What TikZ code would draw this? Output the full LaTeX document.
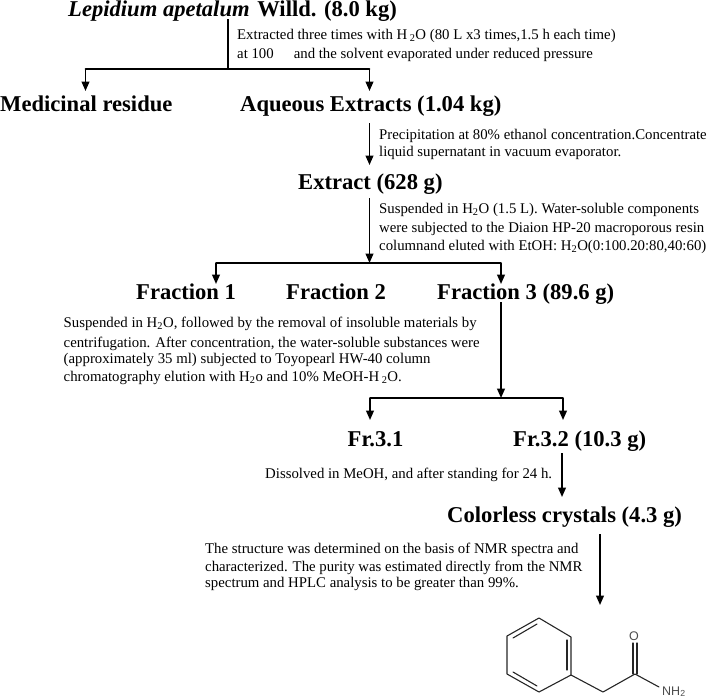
\documentclass[tikz,border=0pt]{standalone}
\usepackage{fontspec}
\setmainfont{Liberation Serif}
\setsansfont{Liberation Sans}
\usetikzlibrary{arrows.meta}
\newcommand{\subn}[1]{\textsubscript{#1}}
\tikzset{
 head/.style={font=\fontsize{22.6}{26}\selectfont\bfseries,anchor=base west,inner sep=0pt},
 note/.style={font=\fontsize{14.8}{18}\selectfont,anchor=base west,inner sep=0pt},
 thinline/.style={line width=1.3pt},
 bar/.style={line width=1.9pt,line cap=round},
 arr/.style={line width=1.7pt,-{Triangle[length=9.5pt,width=7.8pt]}},
 bond/.style={line width=1.1pt,line cap=round,black!85},
 atom/.style={font=\sffamily\fontsize{12.5}{14}\selectfont,text=black!70,inner sep=0pt}
}
\begin{document}
\begin{tikzpicture}[x=1pt,y=-1pt]
\useasboundingbox (0,0) rectangle (708,699);
% titles
\node[head] (a) at (68,16.5) {\textit{Lepidium apetalum}\hspace{2pt} Willd. (8.0 kg)};
\node[head] (b) at (0,111) {Medicinal residue};
\node[head] (c) at (240,111) {Aqueous Extracts (1.04 kg)};
\node[head] (d) at (298,189) {Extract (628 g)};
\node[head] (f1) at (136,299) {Fraction 1};
\node[head] (f2) at (286,299) {Fraction 2};
\node[head] (f3) at (437,299) {Fraction 3 (89.6 g)};
\node[head] (g1) at (347.5,446) {Fr.3.1};
\node[head] (g2) at (513,446) {Fr.3.2 (10.3 g)};
\node[head] (h) at (447,522) {Colorless crystals (4.3 g)};
% notes
\node[note] (n1) at (237,39) {Extracted three times with H\,\subn{2}O (80 L x3 times,1.5 h each time)};
\node[note] (n1b) at (237,58) {at 100\hspace{20pt}and the solvent evaporated under reduced pressure};
\node[note] (n2) at (379,139) {Precipitation at 80\% ethanol concentration.Concentrate};
\node[note] (n2b) at (379,156) {liquid supernatant in vacuum evaporator.};
\node[note] (n3) at (379,213) {Suspended in H\subn{2}O (1.5 L). Water-soluble components};
\node[note] (n3b) at (379,232) {were subjected to the Diaion HP-20 macroporous resin};
\node[note] (n3c) at (379,250) {columnand eluted with EtOH: H\subn{2}O(0:100.20:80,40:60)};
\node[note] (n4) at (63.5,327) {Suspended in H\subn{2}O, followed by the removal of insoluble materials by};
\node[note] (n4b) at (63.5,347) {centrifugation. After concentration, the water-soluble substances were};
\node[note] (n4c) at (63.5,363) {(approximately 35 ml) subjected to Toyopearl HW-40 column};
\node[note] (n4d) at (63.5,381) {chromatography elution with H\subn{2}o and 10\% MeOH-H\,\subn{2}O.};
\node[note] (n5) at (265,478) {Dissolved in MeOH, and after standing for 24 h.};
\node[note] (n6) at (205,553) {The structure was determined on the basis of NMR spectra and};
\node[note] (n6b) at (205,571) {characterized. The purity was estimated directly from the NMR};
\node[note] (n6c) at (205,587) {spectrum and HPLC analysis to be greater than 99\%.};
% connector points
\coordinate (s1) at (228,19);
\coordinate (j1) at (228,69);
\coordinate (l1) at (85.5,69);
\coordinate (r1) at (369.5,69);
\coordinate (bt) at (85.5,91);
\coordinate (ct) at (369.5,91);
\coordinate (s2) at (369.5,123);
\coordinate (dt) at (369.5,165);
\coordinate (s3) at (369.5,198);
\coordinate (j3) at (369.5,263);
\coordinate (l3) at (216,263);
\coordinate (r3) at (501,263);
\coordinate (f1t) at (216,284);
\coordinate (f3t) at (501,284);
\coordinate (s4) at (501,302);
\coordinate (j4) at (501,398);
\coordinate (l4) at (370,398);
\coordinate (r4) at (563,398);
\coordinate (g1t) at (370,420);
\coordinate (g2t) at (563,420);
\coordinate (s5) at (562,453);
\coordinate (ht) at (562,497);
\coordinate (s6) at (600,534);
\coordinate (mt) at (600,605);
% connectors
\draw[thinline] (s1) -- (j1);
\draw[bar] (l1) -- (r1);
\draw[arr] (l1) -- (bt);
\draw[arr] (r1) -- (ct);
\draw[arr] (s2) -- (dt);
\draw[arr] (s3) -- (j3);
\draw[bar] (l3) -- (r3);
\draw[arr] (l3) -- (f1t);
\draw[arr] (r3) -- (f3t);
\draw[arr] (s4) -- (j4);
\draw[bar] (l4) -- (r4);
\draw[arr] (l4) -- (g1t);
\draw[arr] (r4) -- (g2t);
\draw[arr] (s5) -- (ht);
\draw[arr] (s6) -- (mt);
% molecule
\draw[bond,line join=round] (539,618) -- (571,637) -- (571,675) -- (539,692) -- (507,674) -- (507,636) -- cycle;
\draw[bond] (513,638) -- (537,624);
\draw[bond] (567,640) -- (567,670);
\draw[bond] (513,672) -- (537,686);
\draw[bond,line join=round] (571,675) -- (603,692) -- (635,674) -- (659,687);
\draw[bond] (633,674) -- (633,643);
\draw[bond] (637,674) -- (637,643);
\node[atom] (oxy) at (634,636) {O};
\node[atom,anchor=base west] (nh) at (662,695) {NH\textsubscript{2}};
\end{tikzpicture}
\end{document}
